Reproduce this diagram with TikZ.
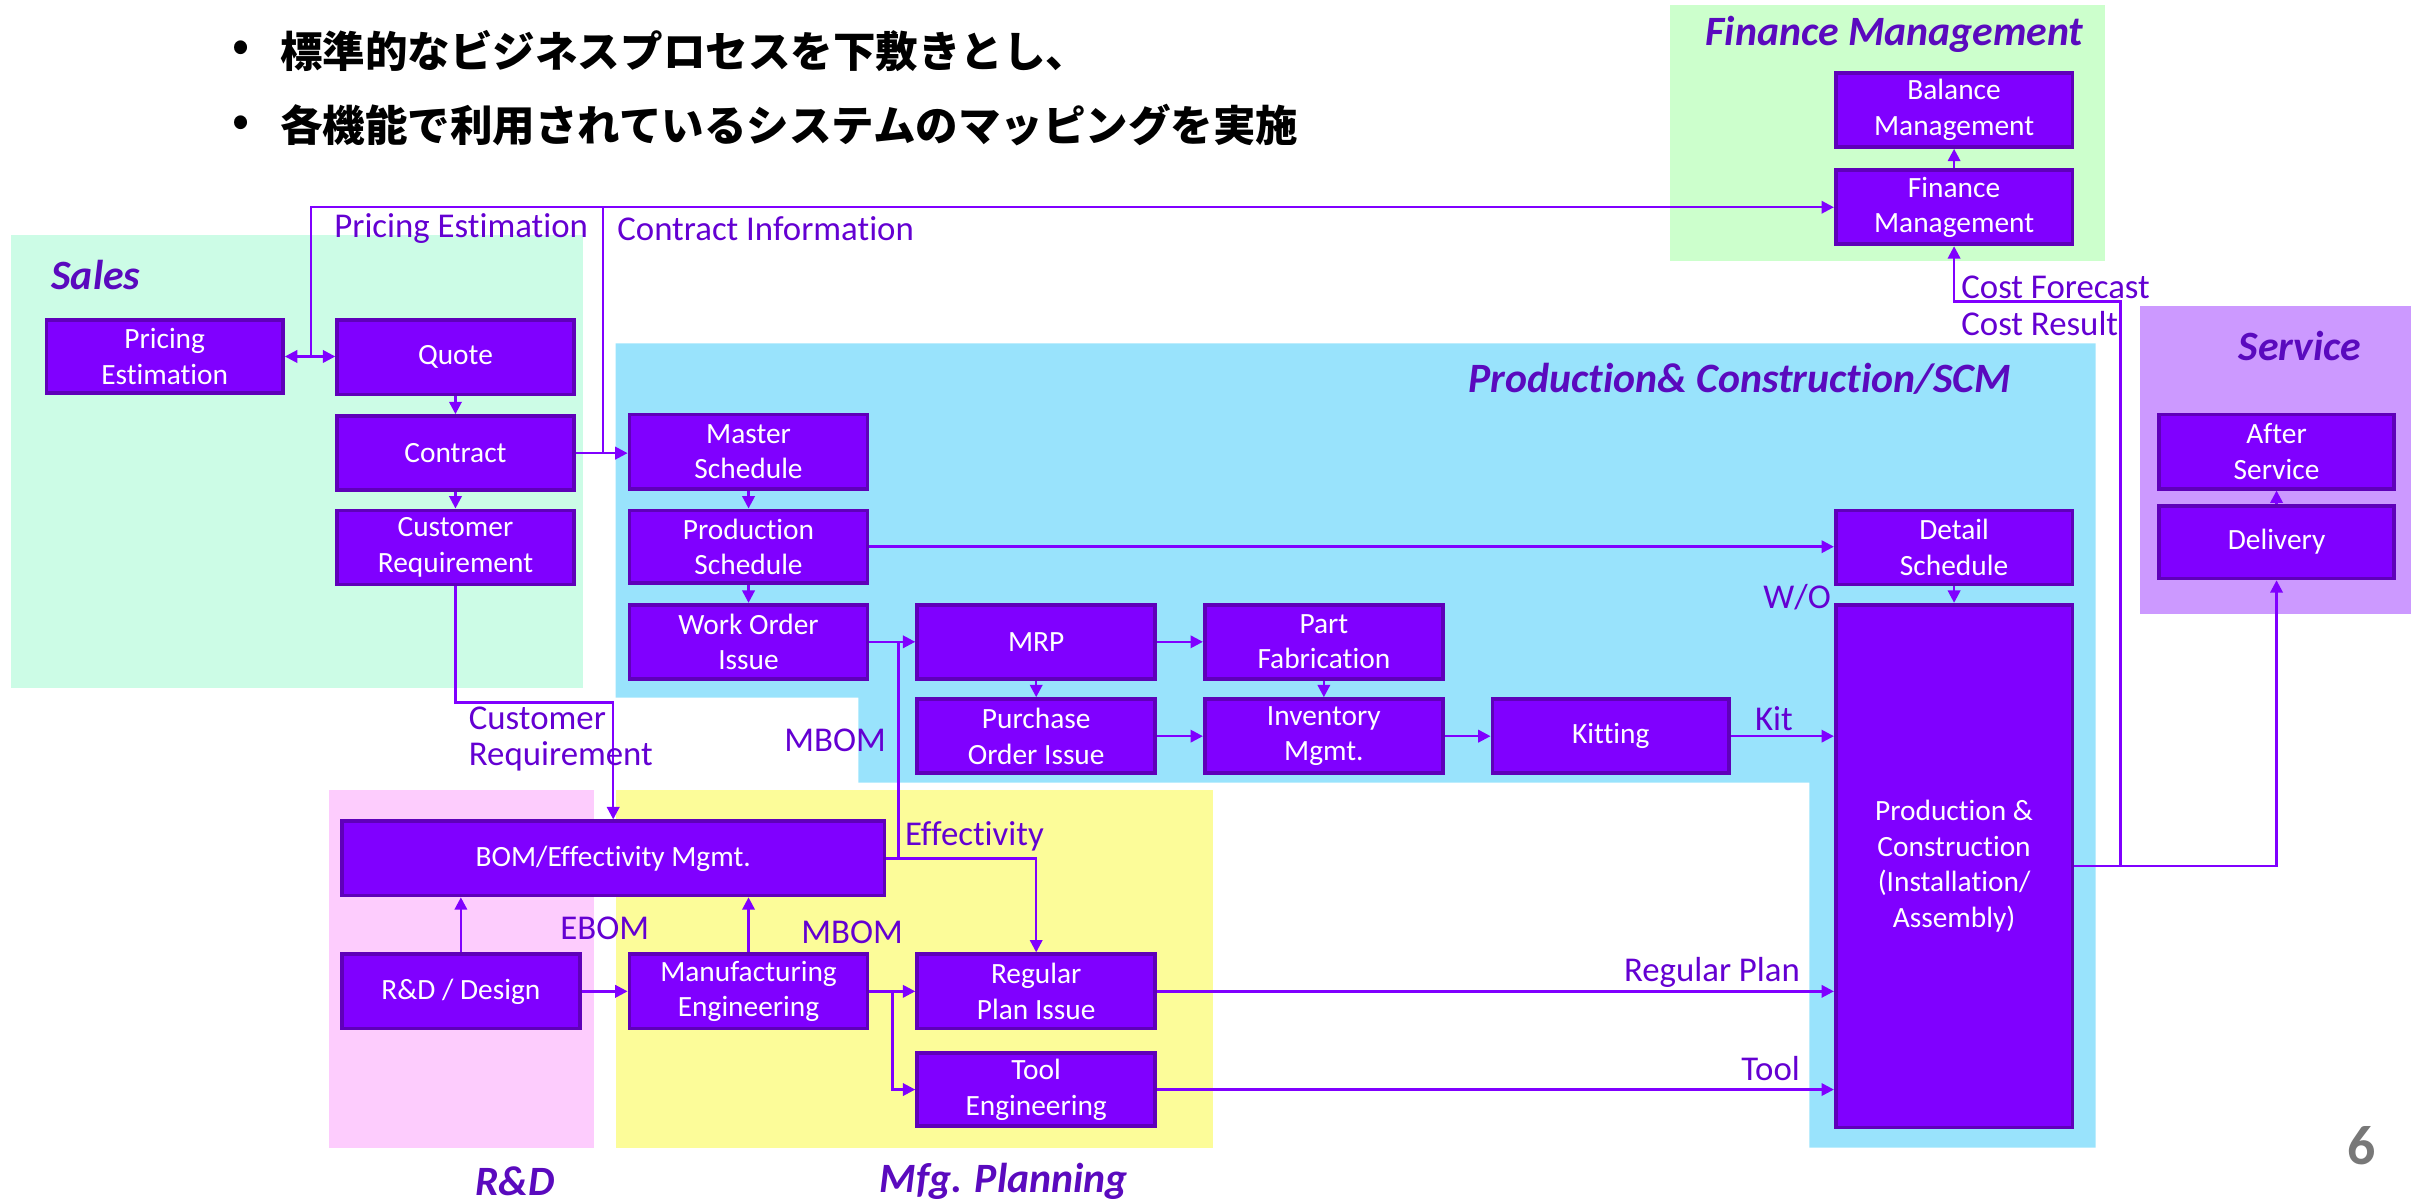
\documentclass[tikz,border=0pt]{standalone}
\usepackage{fontspec}
\setmainfont{Carlito}[Ligatures=NoCommon]
\newfontfamily\jpfont{Noto Sans CJK JP}
\usetikzlibrary{arrows.meta}
\definecolor{boxfill}{RGB}{128,0,255}
\definecolor{boxline}{RGB}{95,0,185}
\definecolor{lbl}{RGB}{100,0,210}
\definecolor{ttl}{RGB}{90,10,190}
\definecolor{salesbg}{RGB}{204,252,230}
\definecolor{finbg}{RGB}{204,255,204}
\definecolor{prodbg}{RGB}{153,227,252}
\definecolor{servbg}{RGB}{204,153,255}
\definecolor{rdbg}{RGB}{253,204,253}
\definecolor{mfgbg}{RGB}{252,252,153}
\definecolor{pagegray}{RGB}{120,120,120}
\tikzset{
 procbox/.style={draw=boxline, fill=boxfill, line width=2.4pt, text=white, align=center, font=\fontsize{19}{23}\selectfont, inner sep=0pt},
 conn/.style={draw=boxfill, line width=1.6pt},
 arr/.style={conn, -{Triangle[length=8pt,width=8pt]}},
 dblarr/.style={conn, {Triangle[length=8pt,width=8pt]}-{Triangle[length=8pt,width=8pt]}},
 lbltext/.style={text=lbl, font=\fontsize{22.5}{23.5}\selectfont, inner sep=0pt},
 ttltext/.style={text=ttl, font=\fontsize{27}{30}\selectfont\bfseries\itshape, inner sep=0pt},
 jptext/.style={text=black, font=\fontsize{27.5}{30}\selectfont\jpfont\bfseries, inner sep=0pt},
}
\newcommand\bx[6]{\node[procbox, minimum width={(#4-#2)*1pt}, minimum height={(#5-#3)*1pt}] (#1) at ({(#2+#4)/2},{(#3+#5)/2+1}) {#6};}
\begin{document}
\begin{tikzpicture}[x=1pt,y=-1pt]
\useasboundingbox (0,0) rectangle (1568,778);
% regions
\fill[salesbg] (7,152) rectangle (377,445);
\fill[finbg] (1080,3) rectangle (1361,169);
\fill[servbg] (1384,198) rectangle (1559,397);
\fill[rdbg] (213,511) rectangle (384,742);
\fill[mfgbg] (398,511) rectangle (784,742);
\fill[prodbg] (398,222) -- (1355,222) -- (1355,742) -- (1170,742) -- (1170,506) -- (555,506) -- (555,451) -- (398,451) -- cycle;
% titles
\node[ttltext] (tsales) at (62,178) {Sales};
\node[ttltext] (tfin) at (1225,22) {Finance Management};
\node[ttltext] (tprod) at (1125,245) {Production\& Construction/SCM};
\node[ttltext] (tserv) at (1487,224) {Service};
\node[ttltext] (trd) at (333,764) {R\&D};
\node[ttltext] (tmfg) at (649,764) {Mfg. Planning};
% Japanese bullets
\node[jptext] (b1) at (156,33) {•};
\node[jptext, anchor=west] (j1) at (181,33) {標準的なビジネスプロセスを下敷きとし、};
\node[jptext] (b2) at (156,81) {•};
\node[jptext, anchor=west] (j2) at (181,81) {各機能で利用されているシステムのマッピングを実施};
% boxes
\bx{pe}{30}{206}{183}{253}{Pricing\\Estimation}
\bx{quote}{218}{206}{371}{254}{Quote}
\bx{contract}{218}{268}{371}{316}{Contract}
\bx{cr}{218}{329}{371}{377}{Customer\\Requirement}
\bx{ms}{407}{267}{561}{315}{Master\\Schedule}
\bx{ps}{407}{329}{561}{376}{Production\\Schedule}
\bx{wo}{407}{390}{561}{438}{Work Order\\Issue}
\bx{mrp}{593}{390}{747}{438}{MRP}
\bx{poi}{593}{451}{747}{499}{Purchase\\Order Issue}
\bx{pf}{779}{390}{933}{438}{Part\\Fabrication}
\bx{inv}{779}{451}{933}{499}{Inventory\\Mgmt.}
\bx{kit}{965}{451}{1118}{499}{Kitting}
\bx{ds}{1187}{329}{1340}{377}{Detail\\Schedule}
\bx{pc}{1187}{390}{1340}{728}{Production \&\\Construction\\(Installation/\\Assembly)}
\bx{bm}{1187}{46}{1340}{94}{Balance\\Management}
\bx{fm}{1187}{109}{1340}{157}{Finance\\Management}
\bx{as}{1396}{267}{1548}{315}{After\\Service}
\bx{del}{1396}{326}{1548}{373}{Delivery}
\bx{bom}{221}{530}{572}{578}{BOM/Effectivity Mgmt.}
\bx{rd}{221}{616}{375}{664}{R\&D / Design}
\bx{me}{407}{616}{561}{664}{Manufacturing\\Engineering}
\bx{rpi}{593}{616}{747}{664}{Regular\\Plan Issue}
\bx{te}{593}{680}{747}{727}{Tool\\Engineering}
% connectors
\coordinate (pj) at (201,230);
\coordinate (cj) at (390,293);
\coordinate (mbj) at (581,415);
\coordinate (cfj) at (1371,195);
\draw[dblarr] (pe.east) -- (pe.east -| quote.west);
\draw[arr] (pj) |- (fm.west);
\draw[arr] (contract.east) -- (contract.east -| ms.west);
\draw[conn] (cj) -- (cj |- fm.west);
\draw[arr] (quote.south) -- (contract.north);
\draw[arr] (contract.south) -- (cr.north);
\draw[arr] (cr.south) -- ++(0,75) -| (bom.north);
\draw[arr] (ms.south) -- (ps.north);
\draw[arr] (ps.south) -- (wo.north);
\draw[arr] (ps.east) -- (ps.east -| ds.west);
\draw[arr] (wo.east) -- (wo.east -| mrp.west);
\draw[conn] (bom.east) -| (mbj);
\draw[arr] (bom.east) -| (rpi.north);
\draw[arr] (mrp.east) -- (mrp.east -| pf.west);
\draw[arr] (mrp.south) -- (poi.north);
\draw[arr] (poi.east) -- (poi.east -| inv.west);
\draw[arr] (pf.south) -- (inv.north);
\draw[arr] (inv.east) -- (inv.east -| kit.west);
\draw[arr] (kit.east) -- (kit.east -| pc.west);
\draw[arr] (ds.south) -- (pc.north);
\draw[arr] (rd.north) -- (rd.north |- bom.south);
\draw[arr] (rd.east) -- (rd.east -| me.west);
\draw[arr] (me.north) -- (me.north |- bom.south);
\draw[arr] (me.east) -- (me.east -| rpi.west);
\draw[arr] (me.east) -- ++(15,0) |- (te.west);
\draw[arr] (rpi.east) -- (rpi.east -| pc.west);
\draw[arr] (te.east) -- (te.east -| pc.west);
\draw[arr] (pc.east) -| (del.south);
\draw[arr] (pc.east) -| (cfj) -| (fm.south);
\draw[arr] (del.north) -- (as.south);
\draw[arr] (fm.north) -- (bm.south);
% labels
\node[lbltext, anchor=west] (lpe) at (216,148) {Pricing Estimation};
\node[lbltext, anchor=west] (lci) at (399,148) {Contract Information};
\node[lbltext, anchor=west, align=left] (lcr) at (303,478) {Customer\\Requirement};
\node[lbltext] (lmbom1) at (540,479) {MBOM};
\node[lbltext, anchor=west] (leff) at (585,541) {Effectivity};
\node[lbltext] (lebom) at (391,600) {EBOM};
\node[lbltext] (lmbom2) at (551,603) {MBOM};
\node[lbltext, anchor=east] (lrp) at (1164,629) {Regular Plan};
\node[lbltext, anchor=east] (ltool) at (1164,691) {Tool};
\node[lbltext] (lkit) at (1147,465) {Kit};
\node[lbltext] (lwo) at (1162,386) {W/O};
\node[lbltext, anchor=west] (lcf) at (1268,186) {Cost Forecast};
\node[lbltext, anchor=west] (lcres) at (1268,209) {Cost Result};
\node[text=pagegray, font=\fontsize{36}{38}\selectfont\bfseries, inner sep=0pt] (pg) at (1527,741) {6};
\end{tikzpicture}
\end{document}
